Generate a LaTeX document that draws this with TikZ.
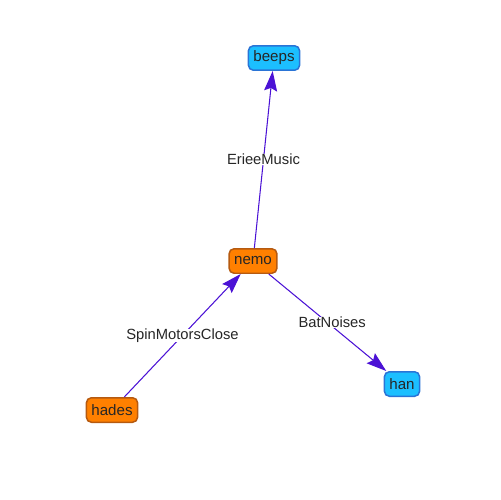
\documentclass[tikz,border=0pt]{standalone}
\usepackage{fontspec}
\setmainfont{Liberation Sans}
\usetikzlibrary{arrows.meta}
\definecolor{skyfill}{HTML}{1CBFFF}
\definecolor{skyline}{HTML}{2A74D6}
\definecolor{orfill}{HTML}{FF8000}
\definecolor{orline}{HTML}{B65A10}
\definecolor{edgecol}{HTML}{4B12D5}

\begin{document}
\begin{tikzpicture}[%
    x=0.02cm, y=-0.02cm,
    vertex/.style={draw, rounded corners=1mm, line width=0.3mm, minimum height=4.9mm,
        inner xsep=1mm, inner ysep=0mm, text=black!85, font=\fontsize{8.6}{10}\selectfont},
    bluevertex/.style={vertex, fill=skyfill, draw=skyline},
    orangevertex/.style={vertex, fill=orfill, draw=orline},
    link/.style={draw=edgecol, semithick, -{Stealth[length=4mm,width=2.6mm,inset=0.6mm]}},
    linklabel/.style={fill=white, inner sep=0mm, text=black!85, font=\fontsize{8.4}{10}\selectfont}]

    \useasboundingbox (0,0) rectangle (500,500);

    \node[bluevertex] (beeps) at (274,58) {beeps};
    \node[orangevertex] (nemo) at (253,261) {nemo};
    \node[bluevertex] (han) at (402,384) {han};
    \node[orangevertex] (hades) at (112,410) {hades};

    \draw[link] (nemo) -- node[linklabel] {ErieeMusic} (beeps);
    \draw[link] (hades) -- node[linklabel] {SpinMotorsClose} (nemo);
    \draw[link] (nemo) -- node[linklabel, pos=0.54, yshift=0.8mm] {BatNoises} (han);

\end{tikzpicture}
\end{document}
